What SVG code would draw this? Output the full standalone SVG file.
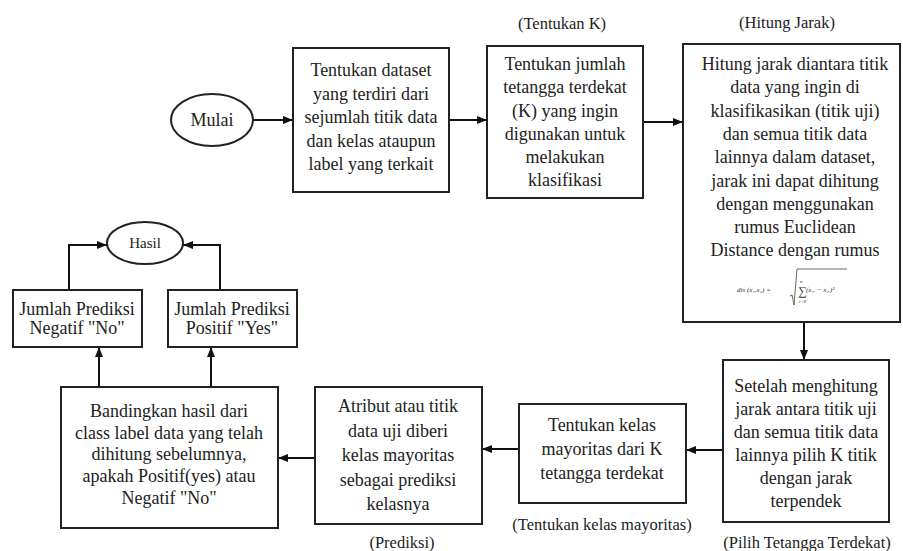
<svg xmlns="http://www.w3.org/2000/svg" width="903" height="551" viewBox="0 0 903 551" font-family="'Liberation Serif', 'DejaVu Serif', serif">
<defs>
<marker id="ah" markerUnits="userSpaceOnUse" markerWidth="10" markerHeight="8" refX="10" refY="4" orient="auto">
<path d="M0,0 L10,4 L0,8 z" fill="#111"/>
</marker>
<style>
text{font-family:'Liberation Serif','DejaVu Serif',serif}
.box{fill:#fff;stroke:#222;stroke-width:2}
.t{font-size:18px;fill:#222;text-anchor:middle}
.lbl{font-size:16.5px;fill:#222;text-anchor:middle}
.c{fill:none;stroke:#111;stroke-width:2;marker-end:url(#ah)}
.f{font-style:italic;font-size:7px;fill:#333}
</style>
</defs>
<rect width="903" height="551" fill="#fff"/>

<g id="connectors">
<path class="c" d="M253,120 H293"/>
<path class="c" d="M449,120 H487"/>
<path class="c" d="M643,122 H683"/>
<path class="c" d="M804,322 V360"/>
<path class="c" d="M723,450 H686"/>
<path class="c" d="M519,449 H482"/>
<path class="c" d="M315,458 H278"/>
<path class="c" d="M99,387 V347"/>
<path class="c" d="M211,387 V347"/>
<path class="c" d="M69,290 V245 H107"/>
<path class="c" d="M220,290 V245 H183"/>
</g>

<g id="mulai">
<ellipse cx="212" cy="120" rx="41" ry="26" class="box"/>
<text class="t" x="212" y="126">Mulai</text>
</g>

<g id="dataset">
<rect x="293" y="48" width="156" height="144" class="box"/>
<text class="t" x="371" y="76">Tentukan dataset</text>
<text class="t" x="371" y="99.5">yang terdiri dari</text>
<text class="t" x="371" y="123">sejumlah titik data</text>
<text class="t" x="371" y="146.5">dan kelas ataupun</text>
<text class="t" x="371" y="170">label yang terkait</text>
</g>

<g id="tentukan-k">
<text class="lbl" x="562" y="29">(Tentukan K)</text>
<rect x="487" y="46" width="156" height="152" class="box"/>
<text class="t" x="565" y="69.5">Tentukan jumlah</text>
<text class="t" x="565" y="93">tetangga terdekat</text>
<text class="t" x="565" y="116.5">(K) yang ingin</text>
<text class="t" x="565" y="139.5">digunakan untuk</text>
<text class="t" x="565" y="162.5">melakukan</text>
<text class="t" x="565" y="185.5">klasifikasi</text>
</g>

<g id="hitung-jarak">
<text class="lbl" x="787" y="28">(Hitung Jarak)</text>
<rect x="683" y="44" width="217" height="278" class="box"/>
<text class="t" x="795" y="69.5">Hitung jarak diantara titik</text>
<text class="t" x="795" y="93">data yang ingin di</text>
<text class="t" x="795" y="116.5">klasifikasikan (titik uji)</text>
<text class="t" x="795" y="140">dan semua titik data</text>
<text class="t" x="795" y="163">lainnya dalam dataset,</text>
<text class="t" x="795" y="186.5">jarak ini dapat dihitung</text>
<text class="t" x="795" y="209.5">dengan menggunakan</text>
<text class="t" x="795" y="232.5">rumus Euclidean</text>
<text class="t" x="795" y="256">Distance dengan rumus</text>
<text class="f" x="737" y="292">dis (x₁,x₂) =</text>
<path d="M790,296 L792,295 L794,305 L797,269 H847" fill="none" stroke="#444" stroke-width="0.8"/>
<text class="f" x="798" y="295" style="font-style:normal;font-size:12px">∑</text>
<text class="f" x="800" y="283" style="font-size:5px">n</text>
<text class="f" x="799" y="303" style="font-size:5px">i=0</text>
<text class="f" x="806" y="292">(x₁ᵢ −  x₂ᵢ)²</text>
</g>

<g id="pilih-tetangga">
<rect x="723" y="360" width="166" height="162" class="box"/>
<text class="t" x="806" y="392">Setelah menghitung</text>
<text class="t" x="806" y="415">jarak antara titik uji</text>
<text class="t" x="806" y="437.5">dan semua titik data</text>
<text class="t" x="806" y="460.5">lainnya pilih K titik</text>
<text class="t" x="806" y="483.5">dengan jarak</text>
<text class="t" x="806" y="507">terpendek</text>
<text class="lbl" x="807" y="548">(Pilih Tetangga Terdekat)</text>
</g>

<g id="kelas-mayoritas">
<rect x="519" y="404" width="167" height="99" class="box"/>
<text class="t" x="602" y="431">Tentukan kelas</text>
<text class="t" x="602" y="455">mayoritas dari K</text>
<text class="t" x="602" y="479">tetangga terdekat</text>
<text class="lbl" x="602" y="530">(Tentukan kelas mayoritas)</text>
</g>

<g id="prediksi">
<rect x="315" y="387" width="167" height="137" class="box"/>
<text class="t" x="398" y="412">Atribut atau titik</text>
<text class="t" x="398" y="437">data uji diberi</text>
<text class="t" x="398" y="461">kelas mayoritas</text>
<text class="t" x="398" y="485.5">sebagai prediksi</text>
<text class="t" x="398" y="510">kelasnya</text>
<text class="lbl" x="402" y="548">(Prediksi)</text>
</g>

<g id="bandingkan">
<rect x="61" y="387" width="217" height="141" class="box"/>
<text class="t" x="169" y="416.5">Bandingkan hasil dari</text>
<text class="t" x="169" y="438.5">class label data yang telah</text>
<text class="t" x="169" y="460">dihitung sebelumnya,</text>
<text class="t" x="169" y="482">apakah Positif(yes) atau</text>
<text class="t" x="169" y="503.5">Negatif "No"</text>
</g>

<g id="negatif">
<rect x="13" y="290" width="129" height="57" class="box"/>
<text class="t" x="77" y="315">Jumlah Prediksi</text>
<text class="t" x="77" y="334">Negatif "No"</text>
</g>

<g id="positif">
<rect x="168" y="290" width="129" height="57" class="box"/>
<text class="t" x="232" y="315">Jumlah Prediksi</text>
<text class="t" x="232" y="334">Positif "Yes"</text>
</g>

<g id="hasil">
<ellipse cx="145" cy="243" rx="38" ry="21" class="box"/>
<text class="t" x="145" y="248" style="font-size:15px">Hasil</text>
</g>
</svg>
